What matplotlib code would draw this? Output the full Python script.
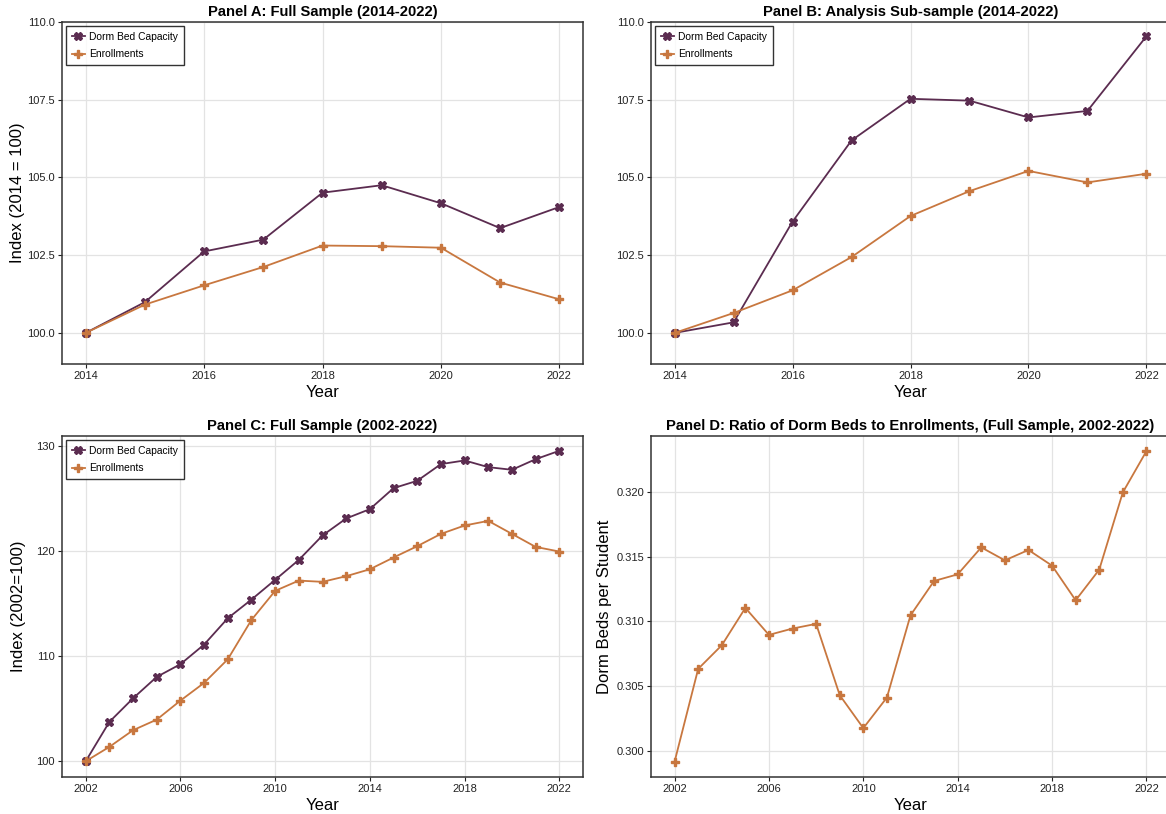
import numpy as np
import matplotlib
matplotlib.use("Agg")
import matplotlib.pyplot as plt

plt.rcParams['font.family'] = ['Liberation Sans', 'DejaVu Sans']

# colours
dorm_color = '#5b2c50'
enr_color = '#c8773f'

# Panel A: full sample, 2014 = 100
years_a = [2014, 2015, 2016, 2017, 2018, 2019, 2020, 2021, 2022]
dorm_a = [100.0, 100.99, 102.62, 103.0, 104.51, 104.75, 104.17, 103.37, 104.05]
enr_a = [100.0, 100.91, 101.53, 102.12, 102.81, 102.79, 102.74, 101.62, 101.08]

# Panel B: analysis sub-sample, 2014 = 100
dorm_b = [100.0, 100.34, 103.58, 106.19, 107.53, 107.47, 106.93, 107.14, 109.54]
enr_b = [100.0, 100.64, 101.37, 102.44, 103.76, 104.56, 105.21, 104.84, 105.12]

# Panel C: full sample, 2002 = 100
years_c = list(range(2002, 2023))
dorm_c = [100.0, 103.75, 106.0, 108.04, 109.25, 111.12, 113.63, 115.41, 117.29,
          119.19, 121.52, 123.14, 124.03, 126.03, 126.73, 128.32, 128.67,
          128.03, 127.78, 128.79, 129.59]
enr_c = [100.0, 101.37, 102.96, 103.97, 105.78, 107.47, 109.72, 113.47, 116.24,
         117.22, 117.1, 117.64, 118.3, 119.42, 120.5, 121.67, 122.47, 122.91,
         121.67, 120.43, 119.99]

# Panel D: dorm beds per student
ratio_d = [0.29918, 0.30634, 0.30816, 0.31104, 0.30896, 0.30945, 0.30981,
           0.30431, 0.30177, 0.30413, 0.31047, 0.31312, 0.31363, 0.31571,
           0.31471, 0.31551, 0.31430, 0.31163, 0.31399, 0.31995, 0.32313]

W, H = 1166, 814
fig = plt.figure(figsize=(W / 100, H / 100), dpi=100)


def make_ax(left, top, right, bottom):
    return fig.add_axes([left / W, 1 - bottom / H, (right - left) / W, (bottom - top) / H])


def style_ax(ax, title, ylabel, xticks, label_x=None):
    ax.set_title(title, fontsize=10.6, fontweight='bold', pad=4)
    ax.set_xlabel('Year', fontsize=12, labelpad=3)
    if ylabel:
        ax.set_ylabel(ylabel, fontsize=12, va='center')
        ax.yaxis.set_label_coords(label_x, 0.5)
    ax.set_xticks(xticks)
    ax.grid(True, color='#e3e3e3', linewidth=0.9)
    ax.set_axisbelow(True)
    ax.tick_params(labelsize=8, length=3, width=0.8, colors='#222222', pad=2)
    for s in ax.spines.values():
        s.set_color('#333333')
        s.set_linewidth(1.1)


def add_legend(ax):
    leg = ax.legend(loc='upper left', fontsize=7.4, frameon=True, fancybox=False,
                    edgecolor='black', handlelength=1.3, handletextpad=0.4,
                    borderpad=0.55, labelspacing=0.75, borderaxespad=0.4)
    leg.get_frame().set_linewidth(1.0)


def plot_pair(ax, x, d, e):
    ax.plot(x, d, color=dorm_color, marker='X', markersize=6, linewidth=1.3,
            label='Dorm Bed Capacity')
    ax.plot(x, e, color=enr_color, marker='P', markersize=6, linewidth=1.3,
            label='Enrollments')


ax_a = make_ax(62, 22, 583, 364)
plot_pair(ax_a, years_a, dorm_a, enr_a)
ax_a.set_ylim(99, 110)
ax_a.set_yticks([100.0, 102.5, 105.0, 107.5, 110.0])
ax_a.set_yticklabels(['100.0', '102.5', '105.0', '107.5', '110.0'])
ax_a.set_xlim(2013.6, 2022.4)
style_ax(ax_a, 'Panel A: Full Sample (2014-2022)', 'Index (2014 = 100)',
         [2014, 2016, 2018, 2020, 2022], label_x=(18 - 62) / 521)
add_legend(ax_a)

ax_b = make_ax(651, 22, 1170, 364)
plot_pair(ax_b, years_a, dorm_b, enr_b)
ax_b.set_ylim(99, 110)
ax_b.set_yticks([100.0, 102.5, 105.0, 107.5, 110.0])
ax_b.set_yticklabels(['100.0', '102.5', '105.0', '107.5', '110.0'])
ax_b.set_xlim(2013.6, 2022.4)
style_ax(ax_b, 'Panel B: Analysis Sub-sample (2014-2022)', None, [2014, 2016, 2018, 2020, 2022])
add_legend(ax_b)

ax_c = make_ax(62, 436, 583, 777)
plot_pair(ax_c, years_c, dorm_c, enr_c)
ax_c.set_xlim(2001, 2023)
ax_c.set_ylim(98.5, 131.0)
ax_c.set_yticks([100, 110, 120, 130])
style_ax(ax_c, 'Panel C: Full Sample (2002-2022)', 'Index (2002=100)',
         [2002, 2006, 2010, 2014, 2018, 2022], label_x=(19 - 62) / 521)
add_legend(ax_c)

ax_d = make_ax(651, 436, 1170, 777)
ax_d.plot(years_c, ratio_d, color=enr_color, marker='P', markersize=6, linewidth=1.3)
ax_d.set_xlim(2001, 2023)
ax_d.set_ylim(0.2980, 0.3243)
ax_d.set_yticks([0.300, 0.305, 0.310, 0.315, 0.320])
ax_d.set_yticklabels(['0.300', '0.305', '0.310', '0.315', '0.320'])
style_ax(ax_d, 'Panel D: Ratio of Dorm Beds to Enrollments, (Full Sample, 2002-2022)',
         'Dorm Beds per Student', [2002, 2006, 2010, 2014, 2018, 2022],
         label_x=(605 - 651) / 519)

fig.savefig('out.png', dpi=100)
